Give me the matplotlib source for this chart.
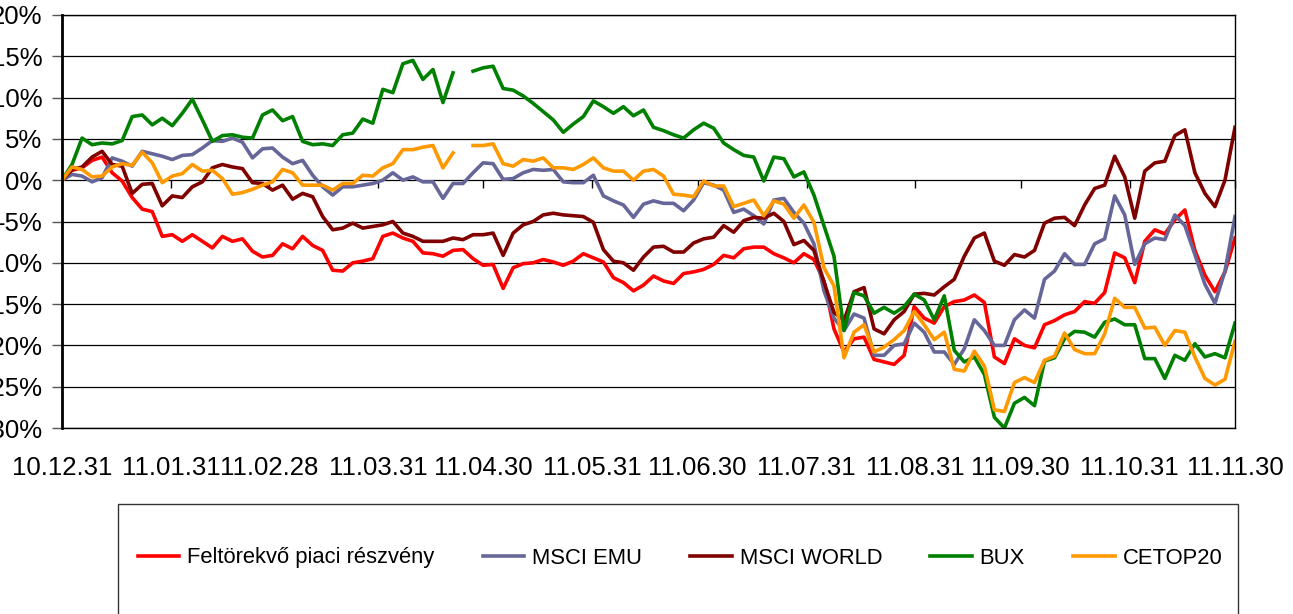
import numpy as np
import pandas as pd
import matplotlib
matplotlib.use("Agg")
import matplotlib.pyplot as plt
import matplotlib.dates as mdates
from matplotlib.patches import Rectangle
from matplotlib.ticker import FuncFormatter

plt.rcParams['font.family'] = ['Liberation Sans', 'DejaVu Sans']

nan = np.nan

# dates of the readings (evenly spread over the period)
dates = pd.date_range('2010-12-31', '2011-11-30', periods=118)

tick_dates = pd.to_datetime(['2010-12-31', '2011-01-31', '2011-02-28', '2011-03-31',
                             '2011-04-30', '2011-05-31', '2011-06-30', '2011-07-31',
                             '2011-08-31', '2011-09-30', '2011-10-31', '2011-11-30'])
tick_labels = ['10.12.31', '11.01.31', '11.02.28', '11.03.31', '11.04.30', '11.05.31',
               '11.06.30', '11.07.31', '11.08.31', '11.09.30', '11.10.31', '11.11.30']

# cumulative return, %
feltorekvo = [
    0.0, 1.2, 1.5, 2.4, 2.8, 0.9, -0.1, -2.1, -3.5, -3.8,
    -6.8, -6.6, -7.4, -6.6, -7.4, -8.2, -6.8, -7.4, -7.1, -8.6,
    -9.3, -9.1, -7.7, -8.3, -6.8, -7.9, -8.5, -10.9, -11.0, -10.0,
    -9.8, -9.5, -6.8, -6.4, -7.0, -7.4, -8.8, -8.9, -9.2, -8.5,
    -8.4, -9.5, -10.3, -10.2, -13.1, -10.6, -10.1, -10.0, -9.6, -9.9,
    -10.3, -9.8, -8.9, -9.4, -9.9, -11.8, -12.4, -13.4, -12.7, -11.6,
    -12.2, -12.5, -11.3, -11.1, -10.8, -10.2, -9.1, -9.4, -8.3, -8.1,
    -8.1, -8.9, -9.4, -10.0, -8.9, -9.6, -12.2, -18.0, -20.8, -19.2,
    -19.0, -21.7, -22.0, -22.3, -21.2, -15.3, -16.7, -17.3, -15.3, -14.7,
    -14.5, -13.9, -14.8, -21.4, -22.2, -19.2, -20.0, -20.3, -17.5, -17.0,
    -16.3, -15.9, -14.7, -14.9, -13.6, -8.8, -9.4, -12.4, -7.4, -6.0,
    -6.5, -4.8, -3.6, -8.5, -11.5, -13.5, -11.1, -7.0]

msci_emu = [
    0.0, 0.7, 0.5, -0.2, 0.3, 2.7, 2.3, 1.7, 3.5, 3.2,
    2.9, 2.5, 3.0, 3.1, 3.9, 4.8, 4.7, 5.1, 4.6, 2.7,
    3.8, 3.9, 2.8, 2.0, 2.4, 0.6, -0.8, -1.8, -0.8, -0.8,
    -0.6, -0.4, 0.0, 0.9, 0.0, 0.4, -0.2, -0.2, -2.2, -0.4,
    -0.4, 0.9, 2.1, 2.0, 0.1, 0.2, 0.9, 1.3, 1.2, 1.3,
    -0.2, -0.3, -0.3, 0.6, -1.9, -2.5, -3.0, -4.5, -2.9, -2.5,
    -2.8, -2.8, -3.7, -2.4, -0.3, -0.6, -1.2, -3.9, -3.5, -4.3,
    -5.3, -2.4, -2.2, -3.9, -5.2, -7.7, -13.4, -16.7, -18.2, -16.2,
    -16.7, -21.2, -21.2, -20.0, -19.8, -17.3, -18.4, -20.8, -20.8, -22.3,
    -20.4, -16.9, -18.2, -20.0, -20.0, -16.9, -15.7, -16.7, -12.0, -11.0,
    -8.9, -10.2, -10.2, -7.7, -7.1, -1.9, -4.2, -10.2, -7.7, -7.0,
    -7.2, -4.2, -5.5, -9.0, -12.6, -14.9, -11.0, -4.4]

msci_world = [
    0.0, 1.3, 1.6, 2.8, 3.5, 1.9, 1.7, -1.6, -0.5, -0.4,
    -3.1, -1.9, -2.1, -0.8, -0.2, 1.5, 1.9, 1.6, 1.4, -0.3,
    -0.4, -1.2, -0.6, -2.3, -1.6, -2.0, -4.4, -6.0, -5.8, -5.2,
    -5.8, -5.6, -5.4, -5.0, -6.4, -6.8, -7.4, -7.4, -7.4, -7.0,
    -7.2, -6.6, -6.6, -6.4, -9.1, -6.4, -5.4, -5.0, -4.2, -4.0,
    -4.2, -4.3, -4.4, -5.1, -8.4, -9.8, -10.0, -10.9, -9.3, -8.1,
    -8.0, -8.7, -8.7, -7.6, -7.1, -6.9, -5.5, -6.3, -4.9, -4.5,
    -4.6, -4.0, -5.0, -7.8, -7.3, -8.5, -12.3, -16.0, -17.0, -13.5,
    -13.0, -18.0, -18.6, -16.9, -15.9, -13.8, -13.7, -13.9, -12.9, -12.0,
    -9.2, -7.0, -6.4, -9.8, -10.3, -9.0, -9.3, -8.5, -5.2, -4.6,
    -4.5, -5.5, -3.0, -1.0, -0.6, 2.9, 0.4, -4.6, 1.1, 2.1,
    2.3, 5.4, 6.1, 0.9, -1.6, -3.2, 0.0, 6.4]

bux = [
    0.0, 1.9, 5.1, 4.3, 4.5, 4.4, 4.8, 7.7, 7.9, 6.7,
    7.5, 6.6, 8.1, 9.8, 7.3, 4.7, 5.4, 5.5, 5.2, 5.1,
    7.9, 8.5, 7.2, 7.7, 4.7, 4.3, 4.4, 4.2, 5.5, 5.7,
    7.4, 6.9, 11.0, 10.6, 14.1, 14.5, 12.2, 13.4, 9.4, 13.0,
    nan, 13.2, 13.6, 13.8, 11.1, 10.9, 10.2, 9.3, 8.3, 7.3,
    5.8, 6.8, 7.7, 9.6, 8.9, 8.1, 8.9, 7.8, 8.5, 6.4,
    6.0, 5.5, 5.1, 6.1, 6.9, 6.3, 4.5, 3.7, 3.0, 2.8,
    -0.1, 2.8, 2.6, 0.4, 1.0, -1.8, -5.5, -9.2, -18.2, -13.6,
    -14.0, -16.1, -15.4, -16.1, -15.3, -13.8, -14.5, -16.9, -14.0, -20.6,
    -22.0, -21.4, -23.5, -28.7, -30.0, -27.0, -26.3, -27.3, -21.9, -21.5,
    -19.2, -18.3, -18.4, -19.0, -17.2, -16.8, -17.5, -17.5, -21.6, -21.6,
    -24.0, -21.2, -21.8, -19.8, -21.4, -21.0, -21.5, -17.3]

cetop20 = [
    0.0, 1.6, 1.3, 0.4, 0.5, 1.6, 2.0, 1.8, 3.4, 2.1,
    -0.3, 0.5, 0.8, 1.9, 1.1, 1.2, 0.2, -1.7, -1.5, -1.1,
    -0.6, -0.2, 1.3, 0.9, -0.6, -0.6, -0.6, -1.2, -0.4, -0.4,
    0.6, 0.5, 1.5, 2.0, 3.7, 3.7, 4.0, 4.2, 1.5, 3.3,
    nan, 4.2, 4.2, 4.4, 2.0, 1.7, 2.5, 2.3, 2.7, 1.5,
    1.5, 1.3, 1.9, 2.7, 1.5, 1.1, 1.1, 0.0, 1.1, 1.3,
    0.5, -1.7, -1.8, -2.0, -0.1, -0.7, -0.7, -3.2, -2.8, -2.4,
    -4.3, -2.5, -2.9, -4.6, -3.0, -5.1, -10.6, -12.8, -21.5, -18.4,
    -17.5, -20.8, -20.2, -19.3, -18.2, -15.9, -17.5, -19.3, -18.4, -22.9,
    -23.1, -20.7, -22.5, -27.8, -28.0, -24.5, -23.9, -24.5, -21.8, -21.3,
    -18.5, -20.5, -21.0, -21.0, -18.6, -14.3, -15.4, -15.4, -17.9, -17.8,
    -20.0, -18.2, -18.4, -21.4, -24.0, -24.8, -24.1, -19.5]

names = ['Feltörekvő piaci részvény', 'MSCI EMU', 'MSCI WORLD', 'BUX', 'CETOP20']
colors = ['#FF0000', '#666699', '#800000', '#008000', '#FF9900']
values = [feltorekvo, msci_emu, msci_world, bux, cetop20]

fig = plt.figure(figsize=(12.93, 6.14), dpi=100)
ax = fig.add_axes([62 / 1293, 1 - 428 / 614, (1235 - 62) / 1293, (428 - 15) / 614])

for name, vals, col in zip(names, values, colors):
    ax.plot(dates, vals, color=col, lw=2.6, label=name)

ax.set_ylim(-30, 20)
ax.set_yticks(np.arange(-30, 21, 5))
ax.yaxis.set_major_formatter(FuncFormatter(lambda v, p: f'{v:.0f}%'))
ax.set_xlim(tick_dates[0], tick_dates[-1])
ax.set_xticks(tick_dates)
ax.set_xticklabels(tick_labels)
ax.grid(axis='y', color='black', lw=0.9)
ax.set_axisbelow(True)
ax.tick_params(axis='x', length=0, pad=20, labelsize=18.5)
ax.tick_params(axis='y', length=7, width=1, color='#555555', pad=7, labelsize=18.5)
for s in ax.spines.values():
    s.set_color('black')
    s.set_linewidth(1)
ax.spines['left'].set_linewidth(2)

# small tick marks on the zero line
sec = ax.secondary_xaxis(0.6)
sec.set_xticks(mdates.date2num(tick_dates))
sec.tick_params(axis='x', direction='in', length=6, width=1, color='black',
                labeltop=False, labelbottom=False)
for s in sec.spines.values():
    s.set_visible(False)

# legend box
fig.patches.append(Rectangle((118 / 1293, -0.1), (1238 - 118) / 1293, 0.1 + 1 - 504 / 614,
                             transform=fig.transFigure, fill=False, ec='#333333', lw=1))
handles, labels = ax.get_legend_handles_labels()
fig.legend(handles, labels, loc='center', bbox_to_anchor=(680 / 1293, 1 - 558 / 614),
           ncol=5, frameon=False, fontsize=15.8, handlelength=1.9, handletextpad=0.35,
           columnspacing=2.2)

fig.savefig('out.png', dpi=100)
